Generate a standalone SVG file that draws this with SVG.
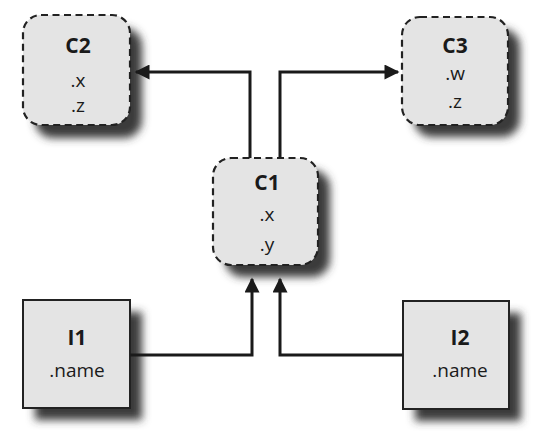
<svg xmlns="http://www.w3.org/2000/svg" width="553" height="443" viewBox="0 0 553 443">
<style>
.cls{fill:#e4e4e4;stroke:#222;stroke-width:2.2;stroke-dasharray:7 4.5}
.inst{fill:#e4e4e4;stroke:#222;stroke-width:2}
.t{font-family:"Open Sans","Liberation Sans",sans-serif;font-size:19px;fill:#1a1a1a;text-anchor:middle}
.b{font-weight:bold;font-size:21px}
.edge{fill:none;stroke:#1a1a1a;stroke-width:3}
.sh{fill:#3a3a3a}
</style>
<defs>
<filter id="sh" x="-30%" y="-30%" width="160%" height="160%">
<feGaussianBlur stdDeviation="4"/>
</filter>
<marker id="ah" viewBox="0 0 10 10" refX="9" refY="5" markerWidth="6" markerHeight="5" orient="auto" markerUnits="strokeWidth">
<path d="M0,0 L10,5 L0,10 z" fill="#1a1a1a"/>
</marker>
</defs>
<rect width="553" height="443" fill="#fff"/>
<g id="C2">
<rect class="sh" x="35" y="28" width="107" height="110" rx="18" filter="url(#sh)"/>
<rect class="cls" x="23" y="15" width="107" height="110" rx="18"/>
<text class="t b" x="78" y="53">C2</text>
<text class="t" x="78" y="87">.x</text>
<text class="t" x="78" y="112">.z</text>
</g>
<g id="C3">
<rect class="sh" x="414" y="29" width="106" height="108" rx="18" filter="url(#sh)"/>
<rect class="cls" x="402" y="17" width="106" height="108" rx="18"/>
<text class="t b" x="455" y="53">C3</text>
<text class="t" x="455" y="80">.w</text>
<text class="t" x="455" y="108">.z</text>
</g>
<g id="C1">
<rect class="sh" x="225" y="170" width="105" height="107" rx="18" filter="url(#sh)"/>
<rect class="cls" x="213" y="158" width="105" height="107" rx="18"/>
<text class="t b" x="267" y="190">C1</text>
<text class="t" x="267" y="221">.x</text>
<text class="t" x="267" y="251">.y</text>
</g>
<g id="I1">
<rect class="sh" x="35" y="312" width="107" height="108" filter="url(#sh)"/>
<rect class="inst" x="23" y="300" width="107" height="108"/>
<text class="t b" x="77" y="345">I1</text>
<text class="t" x="77" y="377">.name</text>
</g>
<g id="I2">
<rect class="sh" x="415" y="313" width="106" height="108" filter="url(#sh)"/>
<rect class="inst" x="403" y="301" width="106" height="108"/>
<text class="t b" x="460" y="345">I2</text>
<text class="t" x="460" y="377">.name</text>
</g>
<g id="connectors">
<path class="edge" d="M250,158 V72 H136" marker-end="url(#ah)"/>
<path class="edge" d="M280,158 V72 H398" marker-end="url(#ah)"/>
<path class="edge" d="M130,355 H252 V279" marker-end="url(#ah)"/>
<path class="edge" d="M403,355 H280 V279" marker-end="url(#ah)"/>
</g>
</svg>
